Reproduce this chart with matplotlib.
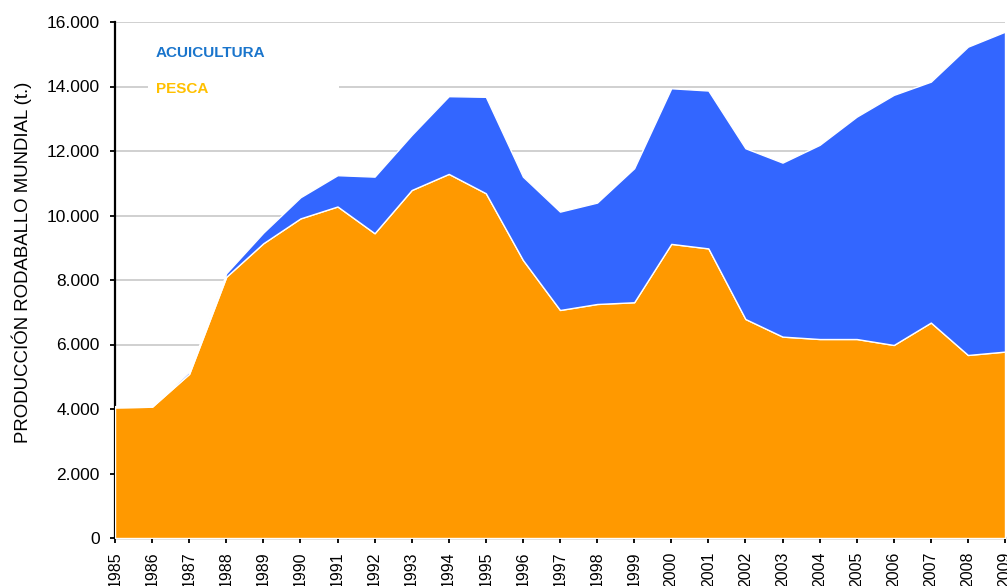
import matplotlib
matplotlib.use("Agg")
import matplotlib.pyplot as plt
from matplotlib.ticker import FuncFormatter, MultipleLocator
from matplotlib.patches import Rectangle

years = list(range(1985, 2010))
pesca = [4050, 4070, 5090, 8100, 9140, 9910, 10280, 9450, 10790, 11290,
         10690, 8620, 7070, 7256, 7310, 9120, 8980, 6790, 6245, 6170,
         6170, 5985, 6680, 5675, 5780]
total = [4090, 4110, 5160, 8210, 9470, 10565, 11250, 11205, 12500, 13700,
         13680, 11205, 10120, 10400, 11465, 13945, 13875, 12085, 11640, 12190,
         13065, 13740, 14150, 15235, 15700]
acuicultura = [t - p for t, p in zip(total, pesca)]

plt.rcParams['font.family'] = ['Liberation Sans', 'DejaVu Sans']

fig = plt.figure(figsize=(10.07, 5.86), dpi=100)
ax = fig.add_axes([115/1007, 48/586, (1005-115)/1007, (538-22)/586])

ax.stackplot(years, pesca, acuicultura, colors=['#ff9900', '#3366ff'],
             edgecolor='white', linewidth=1.0, zorder=3)

ax.set_xlim(1985, 2009)
ax.set_ylim(0, 16000)
ax.yaxis.set_major_locator(MultipleLocator(2000))
ax.yaxis.set_major_formatter(FuncFormatter(lambda v, p: f"{int(v):,}".replace(",", ".")))
ax.set_xticks(years)
ax.set_xticklabels([str(y) for y in years], rotation=90)

ax.grid(axis='y', color='#c8c8c8', linewidth=1.2, zorder=0)
ax.set_axisbelow(True)
for s in ['top', 'right']:
    ax.spines[s].set_visible(False)
ax.spines['left'].set_linewidth(1.6)
ax.spines['bottom'].set_linewidth(1.6)
ax.tick_params(axis='both', direction='out', length=3.6, width=1.3, colors='black')
ax.tick_params(axis='y', labelsize=12.5, pad=7.5)
ax.tick_params(axis='x', labelsize=11.5, pad=6)

ax.set_ylabel('PRODUCCIÓN RODABALLO MUNDIAL (t.)', fontsize=13.4)
ax.yaxis.set_label_coords(-0.093, 0.535)

# white box behind legend texts
ax.add_patch(Rectangle((0.037, 0.80), 0.215, 0.17, transform=ax.transAxes,
                       facecolor='white', edgecolor='none', zorder=1))
ax.text(0.046, 0.94, 'ACUICULTURA', transform=ax.transAxes, color='#1a75cc',
        fontsize=11, fontweight='bold', va='center', ha='left', zorder=4)
ax.text(0.046, 0.871, 'PESCA', transform=ax.transAxes, color='#ffc000',
        fontsize=11, fontweight='bold', va='center', ha='left', zorder=4)

fig.savefig('out.png', dpi=100)
